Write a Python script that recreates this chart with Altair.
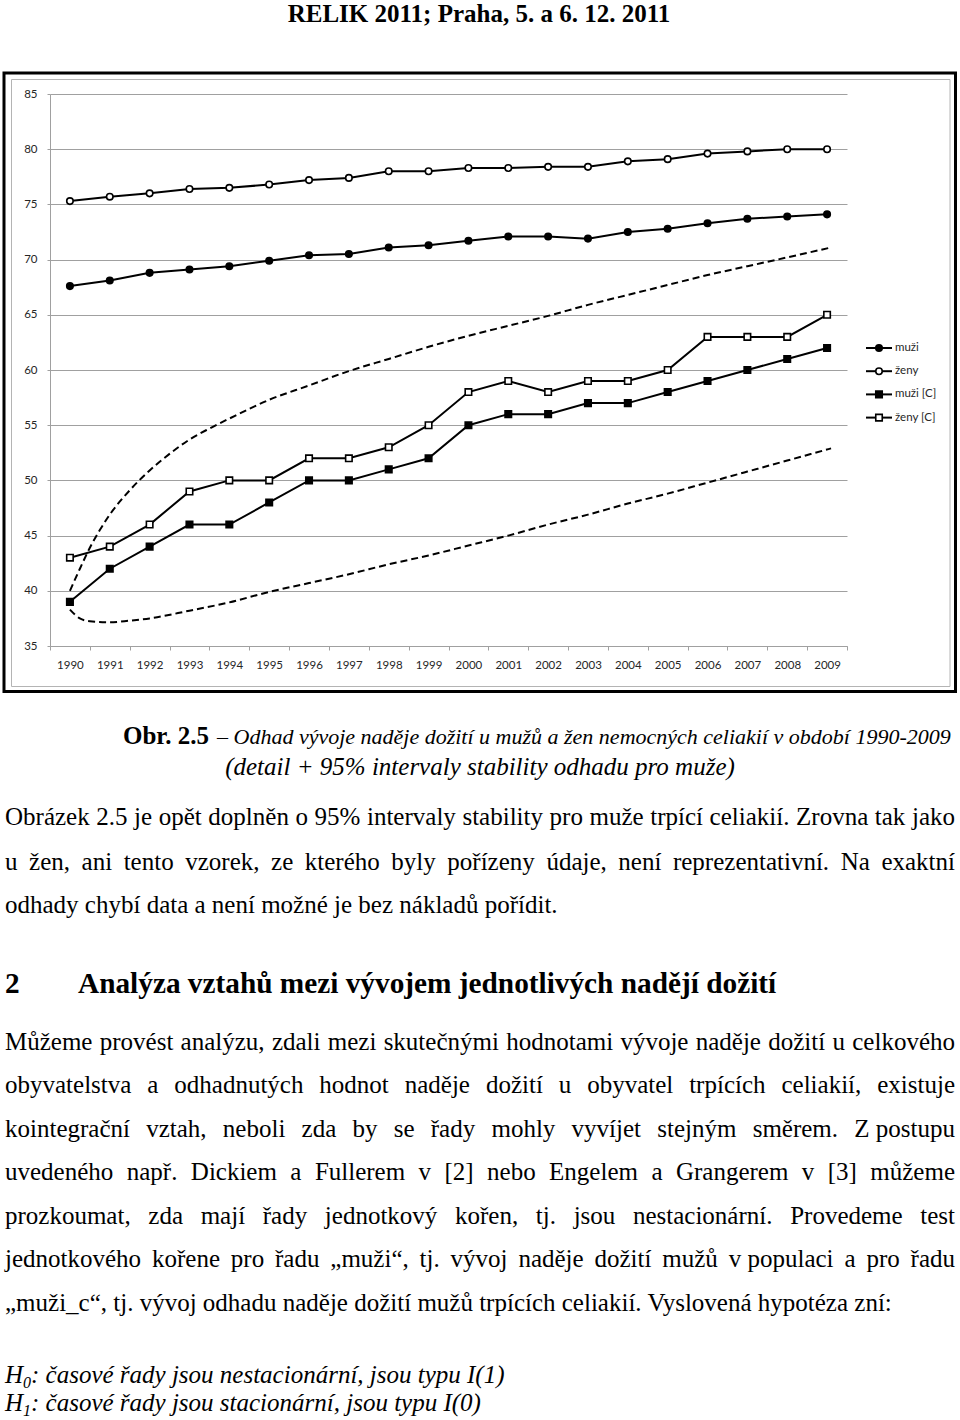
import unicodedata
import altair as alt
import pandas as pd

# ------------------------------------------------------------------ data
years = list(range(1990, 2010))
muzi = [67.6, 68.1, 68.8, 69.1, 69.4, 69.9, 70.4, 70.5, 71.1, 71.3,
        71.7, 72.1, 72.1, 71.9, 72.5, 72.8, 73.3, 73.7, 73.9, 74.1]
zeny = [75.3, 75.7, 76.0, 76.4, 76.5, 76.8, 77.2, 77.4, 78.0, 78.0,
        78.3, 78.3, 78.4, 78.4, 78.9, 79.1, 79.6, 79.8, 80.0, 80.0]
muzi_c = [39, 42, 44, 46, 46, 48, 50, 50, 51, 52,
          55, 56, 56, 57, 57, 58, 59, 60, 61, 62]
zeny_c = [43, 44, 46, 49, 50, 50, 52, 52, 53, 55,
          58, 59, 58, 59, 59, 60, 63, 63, 63, 65]
series_names = ["muži", "ženy", "muži [C]", "ženy [C]"]
series_shapes = ["circle", "circle", "square", "square"]
series_fills = ["black", "white", "black", "white"]

# 95% stability interval for men (dashed curves)
ci_upper_x = [1990, 1990.25, 1990.5, 1990.75, 1991, 1991.5, 1992, 1992.5, 1993, 1993.5,
              1994, 1995, 1996, 1997, 1998, 1999, 2000, 2001, 2002, 2003,
              2004, 2005, 2006, 2007, 2008, 2009.1]
ci_upper_y = [40.0, 42.0, 43.9, 45.5, 46.9, 49.1, 50.9, 52.4, 53.7, 54.7,
              55.6, 57.3, 58.6, 59.9, 61.0, 62.1, 63.1, 64.0, 64.9, 65.9,
              66.8, 67.7, 68.6, 69.4, 70.2, 71.1]
ci_lower_x = [1990, 1990.25, 1990.5, 1991, 1991.5, 1992, 1993, 1994, 1995, 1996,
              1997, 1998, 1999, 2000, 2001, 2002, 2003, 2004, 2005, 2006,
              2007, 2008, 2009.1]
ci_lower_y = [38.3, 37.5, 37.25, 37.15, 37.3, 37.5, 38.2, 38.95, 39.9, 40.7,
              41.5, 42.4, 43.2, 44.1, 45.0, 46.0, 46.9, 47.9, 48.8, 49.8,
              50.8, 51.8, 52.9]

y_ticks = [35, 40, 45, 50, 55, 60, 65, 70, 75, 80, 85]

# ------------------------------------------------------------------ page text
header_text = "RELIK 2011; Praha, 5. a 6. 12. 2011"
caption_label = "Obr. 2.5"
caption_line1 = "– Odhad vývoje naděje dožití u mužů a žen nemocných celiakií v období 1990-2009"
caption_line2 = "(detail + 95% intervaly stability odhadu pro muže)"
para1 = [
    "Obrázek 2.5 je opět doplněn o 95% intervaly stability pro muže trpící celiakií. Zrovna tak jako",
    "u žen, ani tento vzorek, ze kterého byly pořízeny údaje, není reprezentativní. Na exaktní",
    "odhady chybí data a není možné je bez nákladů pořídit.",
]
heading_num = "2"
heading_text = "Analýza vztahů mezi vývojem jednotlivých nadějí dožití"
para2 = [
    "Můžeme provést analýzu, zdali mezi skutečnými hodnotami vývoje naděje dožití u celkového",
    "obyvatelstva a odhadnutých hodnot naděje dožití u obyvatel trpících celiakií, existuje",
    "kointegrační vztah, neboli zda by se řady mohly vyvíjet stejným směrem. Z\u00a0postupu",
    "uvedeného např. Dickiem a Fullerem v [2] nebo Engelem a Grangerem v [3] můžeme",
    "prozkoumat, zda mají řady jednotkový kořen, tj. jsou nestacionární. Provedeme test",
    "jednotkového kořene pro řadu „muži“, tj. vývoj naděje dožití mužů v\u00a0populaci a pro řadu",
    "„muži_c“, tj. vývoj odhadu naděje dožití mužů trpících celiakií. Vyslovená hypotéza zní:",
]
hyp_letter = ["H", "H"]
hyp_index = ["0", "1"]
hyp_rest = [": časové řady jsou nestacionární, jsou typu I(1)",
            ": časové řady jsou stacionární, jsou typu I(0)"]

# ------------------------------------------------------------------ layout
PLOT_L, PLOT_T, PLOT_W, PLOT_H = 50, 94, 797, 552
PAGE_W, PAGE_H = 960, 1420
GRID = "#a0a0a0"
LABEL = "#262626"
SERIF = "Liberation Serif"
SANS = "Lato"
FS = 25


def px(X):
    return X - PLOT_L


def py(Y):
    return Y - PLOT_T


# Times New Roman advance widths (per 1000 em) for justification
TW = {" ": 250, "\u00a0": 250, "!": 333, "%": 833, "(": 333, ")": 333, "+": 564, ",": 250,
      "-": 333, ".": 250, "/": 278, ":": 278, ";": 278, "[": 333, "]": 333, "_": 500,
      "„": 444, "“": 444, "–": 500}
for d in "0123456789":
    TW[d] = 500
TW.update(dict(A=722, B=667, C=667, D=722, E=611, F=556, G=722, H=722, I=333, J=389,
               K=722, L=611, M=889, N=722, O=722, P=556, Q=722, R=667, S=556, T=611,
               U=722, V=722, W=944, X=722, Y=722, Z=611,
               a=444, b=500, c=444, d=500, e=444, f=333, g=500, h=500, i=278, j=278,
               k=500, l=278, m=778, n=500, o=500, p=500, q=500, r=333, s=389, t=278,
               u=500, v=500, w=722, x=500, y=500, z=444))


def char_w(c):
    if c in TW:
        return TW[c]
    base = unicodedata.normalize("NFD", c)[0]
    return TW.get(base, 500)


def text_w(s, fs):
    return sum(char_w(c) for c in s) * fs / 1000.0


rows = []


def add(x, y, text, fs, kind):
    rows.append(dict(px=px(x), py=py(y), text=text, fs=fs, kind=kind))


def add_par(lines, baselines, left=5, right=955, fs=FS):
    for k, (line, yb) in enumerate(zip(lines, baselines)):
        last = k == len(lines) - 1
        if last:
            add(left, yb, line.replace("\u00a0", " "), fs, "reg")
            continue
        words = line.split(" ")
        widths = [text_w(w, fs) for w in words]
        gap = (right - left - sum(widths)) / (len(words) - 1)
        xx = left
        for w, wd in zip(words, widths):
            add(xx, yb, w.replace("\u00a0", " "), fs, "reg")
            xx += wd + gap


add(479, 22, header_text, FS, "bold_c")
add(123, 744, caption_label, FS, "bold_l")
add(217, 744, caption_line1, 22, "ital_l")
add(480, 775, caption_line2, FS, "ital_c")
add_par(para1, [825, 870, 913])
add(5, 993, heading_num, 29.3, "bold_l")
add(78, 993, heading_text, 29.3, "bold_l")
add_par(para2, [1050, 1093, 1137, 1180, 1224, 1267, 1311])
for k, yb in enumerate([1383, 1411]):
    add(5, yb, hyp_letter[k], FS, "ital_l")
    add(23, yb + 5, hyp_index[k], 16, "ital_l")
    add(31, yb, hyp_rest[k], FS, "ital_l")

text_df = pd.DataFrame(rows)

# ------------------------------------------------------------------ chart data frames
long_rows = []
for name, vals in zip(series_names, [muzi, zeny, muzi_c, zeny_c]):
    for yr, v in zip(years, vals):
        long_rows.append(dict(year=yr, value=v, series=name))
df = pd.DataFrame(long_rows)

ci_df = pd.DataFrame(
    [dict(year=x, value=v, bound="upper") for x, v in zip(ci_upper_x, ci_upper_y)]
    + [dict(year=x, value=v, bound="lower") for x, v in zip(ci_lower_x, ci_lower_y)]
)

half = [yr - 0.5 for yr in years] + [years[-1] + 0.5]
band = PLOT_W / len(years)

x_enc = alt.X(
    "year:Q", title=None,
    scale=alt.Scale(domain=[half[0], half[-1]], nice=False, zero=False),
    axis=alt.Axis(values=half, grid=False, tickSize=4, tickColor=GRID, domainColor=GRID,
                  labelExpr="datum.value > 2009 ? '' : toString(datum.value + 0.5)",
                  labelOffset=band / 2, labelPadding=9, labelFont=SANS, labelFontSize=11.5,
                  labelColor=LABEL, labelFlush=False, labelOverlap=False, labelBound=False),
)
y_enc = alt.Y(
    "value:Q", title=None,
    scale=alt.Scale(domain=[35, 85], nice=False, zero=False),
    axis=alt.Axis(values=y_ticks, grid=True, gridColor=GRID, tickSize=3, tickColor=GRID,
                  domainColor=GRID, labelPadding=10, labelFont=SANS, labelFontSize=11.5,
                  labelColor=LABEL),
)

shape_scale = alt.Scale(domain=series_names, range=series_shapes)
fill_scale = alt.Scale(domain=series_names, range=series_fills)

one = pd.DataFrame({"a": [0]})

frame_outer = alt.Chart(one).mark_rect(fillOpacity=0, stroke="black", strokeWidth=3).encode(
    x=alt.value(px(4)), x2=alt.value(px(955.5)), y=alt.value(py(73)), y2=alt.value(py(691.5)))
frame_inner = alt.Chart(one).mark_rect(fillOpacity=0, stroke="#b4b4b4", strokeWidth=1).encode(
    x=alt.value(px(11.5)), x2=alt.value(px(950)), y=alt.value(py(79.5)), y2=alt.value(py(686.5)))

lines = alt.Chart(df).mark_line(color="black", strokeWidth=2).encode(
    x=x_enc, y=y_enc, detail="series:N")
points = alt.Chart(df).mark_point(filled=True, stroke="black", strokeWidth=1.6, size=42,
                                  opacity=1).encode(
    x=x_enc, y=y_enc,
    shape=alt.Shape("series:N", scale=shape_scale, legend=None),
    fill=alt.Fill("series:N", scale=fill_scale, legend=None))
ci = alt.Chart(ci_df).mark_line(color="black", strokeWidth=2, strokeDash=[7, 4],
                                interpolate="monotone").encode(
    x=x_enc, y=y_enc, detail="bound:N")

main = alt.layer(frame_outer, frame_inner, ci, lines, points)

# legend (pixel coordinates)
leg_df = pd.DataFrame({
    "series": series_names,
    "lx1": [px(866)] * 4, "lx2": [px(892)] * 4, "lm": [px(879)] * 4, "lt": [px(894)] * 4,
    "ly": [py(348 + 23.2 * i) for i in range(4)],
})
leg_line = alt.Chart(leg_df).mark_rule(color="black", strokeWidth=2).encode(
    x=alt.X("lx1:Q", scale=None, axis=None), x2="lx2:Q",
    y=alt.Y("ly:Q", scale=None, axis=None))
leg_pts = alt.Chart(leg_df).mark_point(filled=True, stroke="black", strokeWidth=1.6, size=42,
                                       opacity=1).encode(
    x=alt.X("lm:Q", scale=None, axis=None), y=alt.Y("ly:Q", scale=None, axis=None),
    shape=alt.Shape("series:N", scale=shape_scale, legend=None),
    fill=alt.Fill("series:N", scale=fill_scale, legend=None))
leg_txt = alt.Chart(leg_df).mark_text(align="left", baseline="middle", font=SANS,
                                      fontSize=11.5, color=LABEL, dx=1).encode(
    x=alt.X("lt:Q", scale=None, axis=None), y=alt.Y("ly:Q", scale=None, axis=None),
    text="series:N")


def text_layer(kind, align, weight, style):
    kw = dict(align=align, baseline="alphabetic", font=SERIF, color="black", fontWeight=weight)
    if style:
        kw["fontStyle"] = style
    return alt.Chart(text_df).transform_filter(alt.datum.kind == kind).mark_text(**kw).encode(
        x=alt.X("px:Q", scale=None, axis=None),
        y=alt.Y("py:Q", scale=None, axis=None),
        size=alt.Size("fs:Q", scale=None, legend=None),
        text="text:N")


page = alt.layer(
    leg_line, leg_pts, leg_txt,
    text_layer("reg", "left", "normal", None),
    text_layer("bold_l", "left", "bold", None),
    text_layer("bold_c", "center", "bold", None),
    text_layer("ital_l", "left", "normal", "italic"),
    text_layer("ital_c", "center", "normal", "italic"),
)

chart = alt.layer(main, page).resolve_scale(x="independent", y="independent").properties(
    width=PLOT_W, height=PLOT_H,
    padding={"left": PLOT_L, "top": PLOT_T,
             "right": PAGE_W - PLOT_L - PLOT_W, "bottom": PAGE_H - PLOT_T - PLOT_H},
    autosize=alt.AutoSizeParams(type="none"),
    background="white",
).configure_view(strokeWidth=0)

chart.save("out.html", embed_options={"renderer": "svg", "actions": False})
